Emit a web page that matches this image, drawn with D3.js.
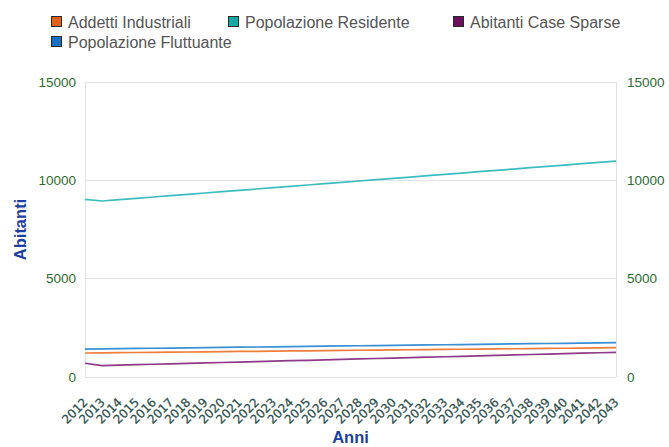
<!DOCTYPE html>
<html>
<head>
<meta charset="utf-8">
<script src="https://cdn.jsdelivr.net/npm/d3@7"></script>
<style>
  html, body { margin: 0; padding: 0; background: #fff; }
  svg { display: block; }
</style>
</head>
<body>
<svg id="chart" width="669" height="447"></svg>
<script>
const years = ["2012","2013","2014","2015","2016","2017","2018","2019","2020","2021","2022","2023","2024","2025","2026","2027","2028","2029","2030","2031","2032","2033","2034","2035","2036","2037","2038","2039","2040","2041","2042","2043"];

const addettiIndustriali = [1220,1229,1238,1246,1255,1264,1272,1281,1290,1298,1307,1316,1324,1333,1342,1350,1359,1368,1376,1385,1394,1402,1411,1420,1428,1437,1446,1454,1463,1472,1480,1490];
const popolazioneResidente = [9030,8950,9018,9085,9153,9221,9289,9356,9424,9492,9559,9627,9695,9762,9830,9898,9965,10033,10101,10168,10236,10304,10371,10439,10507,10574,10642,10710,10777,10845,10913,10980];
const abitantiCaseSparse = [700,580,603,625,648,670,693,715,738,760,783,805,828,850,873,895,918,940,963,985,1008,1030,1053,1075,1098,1120,1143,1165,1188,1210,1233,1255];
const popolazioneFluttuante = [1420,1431,1441,1452,1462,1473,1483,1494,1504,1515,1525,1536,1546,1557,1567,1578,1588,1599,1609,1620,1630,1641,1651,1662,1672,1683,1693,1704,1714,1725,1735,1745];

const seriesNames = ["Addetti Industriali","Popolazione Residente","Abitanti Case Sparse","Popolazione Fluttuante"];
const yTicks = [0, 5000, 10000, 15000];
const yTitle = "Abitanti";
const xTitle = "Anni";

(function () {
const seriesValues = [addettiIndustriali, popolazioneResidente, abitantiCaseSparse, popolazioneFluttuante];
const swatchColors = ["#e2621b","#14a9a4","#6b0f5c","#1670c2"];
const lineColors = ["#ef7d3c","#3dbdbd","#8e3a86","#3b8fd4"];

const svg = d3.select("#chart");
const pL = 85, pR = 616, pT = 82, pB = 377;

const x = d3.scalePoint().domain(years).range([pL, pR]);
const y = d3.scaleLinear().domain([0, 15000]).range([pB, pT]);

// gridlines
svg.append("g").selectAll("line").data(yTicks).join("line")
  .attr("x1", pL).attr("x2", pR)
  .attr("y1", d => y(d)).attr("y2", d => y(d))
  .attr("stroke", "#e1e1e8").attr("stroke-width", 1)
  .attr("shape-rendering", "crispEdges");
svg.append("line").attr("x1", pL).attr("x2", pL).attr("y1", pT).attr("y2", pB)
  .attr("stroke", "#e1e1e8").attr("shape-rendering", "crispEdges");
svg.append("line").attr("x1", pR).attr("x2", pR).attr("y1", pT).attr("y2", pB)
  .attr("stroke", "#e1e1e8").attr("shape-rendering", "crispEdges");

// y axes
const fmt = d3.format("d");
const gL = svg.append("g").attr("transform", `translate(${pL},0)`)
  .call(d3.axisLeft(y).tickValues(yTicks).tickFormat(fmt).tickSize(0).tickPadding(9));
const gR = svg.append("g").attr("transform", `translate(${pR},0)`)
  .call(d3.axisRight(y).tickValues(yTicks).tickFormat(fmt).tickSize(0).tickPadding(11));
[gL, gR].forEach(g => {
  g.select(".domain").remove();
  g.selectAll("text").attr("fill", "#2f6b2f")
    .attr("font-family", "'Liberation Sans', Arial, sans-serif")
    .attr("font-size", "13.5px");
});

// x axis labels
const gX = svg.append("g").attr("transform", `translate(0,${pB})`)
  .call(d3.axisBottom(x).tickSize(0).tickPadding(0));
gX.select(".domain").remove();
gX.selectAll("text")
  .attr("fill", "#2f4f4f")
  .attr("font-family", "'DejaVu Sans', sans-serif")
  .attr("font-size", "12px")
  .attr("font-weight", "normal")
  .attr("stroke", "#2f4f4f")
  .attr("stroke-width", 0.25)
  .attr("text-anchor", "end")
  .attr("dy", 0)
  .attr("y", 0)
  .attr("transform", "translate(3,26) rotate(-45)");

// lines
const line = d3.line().x((d, i) => x(years[i])).y(d => y(d)).curve(d3.curveLinear);
svg.append("g").selectAll("path").data(seriesValues).join("path")
  .attr("d", d => line(d))
  .attr("fill", "none")
  .attr("stroke", (d, i) => lineColors[i])
  .attr("stroke-width", 1.7)
  .attr("stroke-linejoin", "round");

// axis titles
svg.append("text").text(yTitle)
  .attr("transform", `translate(26,${(pT + pB) / 2}) rotate(-90)`)
  .attr("text-anchor", "middle")
  .attr("fill", "#1d3f9e")
  .attr("font-family", "'Liberation Sans', Arial, sans-serif")
  .attr("font-weight", "bold")
  .attr("font-size", "16.5px");
svg.append("text").text(xTitle)
  .attr("x", (pL + pR) / 2).attr("y", 443)
  .attr("text-anchor", "middle")
  .attr("fill", "#1d3f9e")
  .attr("font-family", "'Liberation Sans', Arial, sans-serif")
  .attr("font-weight", "bold")
  .attr("font-size", "16.5px");

// legend
const legendPos = [[51, 22], [228, 22], [453, 22], [51, 42]];
const lg = svg.append("g").selectAll("g").data(seriesNames).join("g")
  .attr("transform", (d, i) => `translate(${legendPos[i][0]},${legendPos[i][1]})`);
lg.append("rect")
  .attr("x", 0.5).attr("y", -5.5).attr("width", 10).attr("height", 10)
  .attr("fill", (d, i) => swatchColors[i])
  .attr("stroke", "#2a2a2a").attr("stroke-width", 1);
lg.append("text").text(d => d)
  .attr("x", 17).attr("y", 0).attr("dy", "0.36em")
  .attr("fill", "#555")
  .attr("font-family", "'Liberation Sans', Arial, sans-serif")
  .attr("font-size", "16px");
})();
</script>
</body>
</html>
